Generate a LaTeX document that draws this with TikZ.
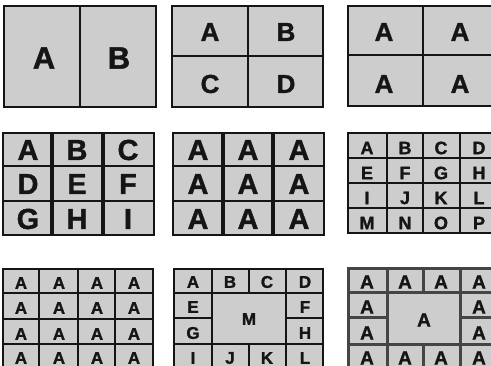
\documentclass[tikz,border=0pt]{standalone}
\usepackage{fontspec}
\setmainfont{Liberation Sans}[BoldFeatures={FakeBold=1.3}]
\definecolor{cellfill}{HTML}{CDCDCD}
\definecolor{ink}{HTML}{151515}
\definecolor{grayink}{HTML}{454545}
\begin{document}
\begin{tikzpicture}[x=1pt,y=-1pt,
  glyph/.style={font=\bfseries\fontsize{#1}{#1}\selectfont, inner sep=0pt, text=ink},
  panel/.style={fill=cellfill},
  thin/.style={draw=ink, line width=2pt},
  mid/.style={draw=ink, line width=2.6pt},
  heavy/.style={draw=ink, line width=4.5pt},
  grayrule/.style={draw=grayink, line width=3pt}]
\useasboundingbox (0,0) rectangle (491,366);
\clip (0,0) rectangle (491,366);
% ---------- Row 1 ----------
% panel 1,1
\fill[panel] (4,6) rectangle (156,107);
\draw[thin] (4,6) rectangle (156,107);
\draw[thin] (80,6) -- (80,107);
\node[glyph=31] (r1a) at (44,58) {A};
\node[glyph=31] (r1b) at (119,58) {B};
% panel 1,2
\fill[panel] (172,6) rectangle (323,107);
\draw[thin] (172,6) rectangle (323,107);
\draw[thin] (248,6) -- (248,107);
\draw[thin] (172,56) -- (323,56);
\node[glyph=26] (q1a) at (210,32) {A};
\node[glyph=26] (q1b) at (286,32) {B};
\node[glyph=26] (q1c) at (210,84) {C};
\node[glyph=26] (q1d) at (286,84) {D};
% panel 1,3
\fill[panel] (348,6) rectangle (498,106);
\draw[thin] (348,6) rectangle (498,106);
\draw[thin] (423,6) -- (423,106);
\draw[thin] (348,55) -- (498,55);
\node[glyph=26] (s1a) at (384,32) {A};
\node[glyph=26] (s1b) at (460,32) {A};
\node[glyph=26] (s1c) at (384,84) {A};
\node[glyph=26] (s1d) at (460,84) {A};
% ---------- Row 2 ----------
% panel 2,1
\fill[panel] (3,133) rectangle (154,235);
\draw[mid] (3,166) -- (154,166);
\draw[mid] (3,201) -- (154,201);
\draw[heavy] (52,133) -- (52,235);
\draw[heavy] (103,133) -- (103,235);
\draw[thin] (3,133) rectangle (154,235);
\foreach \t/\cx/\cy in {A/28/150,B/77/150,C/128/150,D/28/184,E/77/184,F/128/184,G/28/219,H/77/219,I/128/219}
  \node[glyph=29] (g\t) at (\cx,\cy) {\t};
% panel 2,2
\fill[panel] (173,133) rectangle (324,235);
\draw[mid] (173,166) -- (324,166);
\draw[mid] (173,201) -- (324,201);
\draw[heavy] (223,133) -- (223,235);
\draw[heavy] (273,133) -- (273,235);
\draw[thin] (173,133) rectangle (324,235);
\foreach \n/\cx/\cy in {1/198/150,2/248/150,3/299/150,4/198/184,5/248/184,6/299/184,7/198/219,8/248/219,9/299/219}
  \node[glyph=29] (h\n) at (\cx,\cy) {A};
% panel 2,3
\fill[panel] (348,133) rectangle (498,233);
\draw[mid] (348,133) rectangle (498,233);
\foreach \x in {387,423,460} \draw[mid] (\x,133) -- (\x,233);
\foreach \y in {158,183,208} \draw[mid] (348,\y) -- (498,\y);
\foreach \t/\cx/\cy in {A/367/148,B/405/148,C/441/148,D/479/148,
                       E/367/173,F/405/173,G/441/173,H/479/173,
                       I/367/198,J/405/198,K/441/198,L/479/198,
                       M/367/223,N/405/223,O/441/223,P/479/223}
  \node[glyph=18] (k\t) at (\cx,\cy) {\t};
% ---------- Row 3 ----------
% panel 3,1
\fill[panel] (3,269) rectangle (153,372);
\draw[mid] (3,269) rectangle (153,372);
\foreach \x in {39,78,115} \draw[mid] (\x,269) -- (\x,372);
\foreach \y in {293,319,344} \draw[mid] (3,\y) -- (153,\y);
\foreach \cx in {21,59,97,134}
  \foreach \cy in {283,308,334,358}
    \node[glyph=17] (m\cx-\cy) at (\cx,\cy) {A};
% panel 3,2
\fill[panel] (174,269) rectangle (323,372);
\draw[mid] (174,269) rectangle (323,372);
\draw[mid] (174,293) -- (323,293);
\draw[mid] (174,344) -- (323,344);
\draw[mid] (174,318) -- (212,318);
\draw[mid] (286,318) -- (323,318);
\draw[mid] (212,269) -- (212,372);
\draw[mid] (286,269) -- (286,372);
\draw[mid] (249,269) -- (249,293);
\draw[mid] (249,344) -- (249,372);
\foreach \t/\cx/\cy in {A/193/282,B/230/282,C/267/282,D/305/282,
                       E/193/307,F/305/307,G/193/333,H/305/333,
                       I/193/358,J/230/358,K/267/358,L/305/358,M/249/319}
  \node[glyph=17] (n\t) at (\cx,\cy) {\t};
% panel 3,3
\fill[panel] (348,269) rectangle (498,372);
\draw[grayrule] (348,269) rectangle (498,372);
\draw[grayrule] (348,293) -- (498,293);
\draw[grayrule] (348,345) -- (498,345);
\draw[grayrule] (348,318) -- (387,318);
\draw[grayrule] (460,318) -- (498,318);
\draw[grayrule] (387,269) -- (387,372);
\draw[grayrule] (460,269) -- (460,372);
\draw[grayrule] (423,269) -- (423,293);
\draw[grayrule] (423,345) -- (423,372);
\foreach \n/\cx/\cy in {1/367/282,2/405/282,3/441/282,4/479/282,
                       5/367/307,6/479/307,7/367/333,8/479/333,
                       9/367/358,10/405/358,11/441/358,12/479/358,13/424/320}
  \node[glyph=19] (o\n) at (\cx,\cy) {A};
\end{tikzpicture}
\end{document}
